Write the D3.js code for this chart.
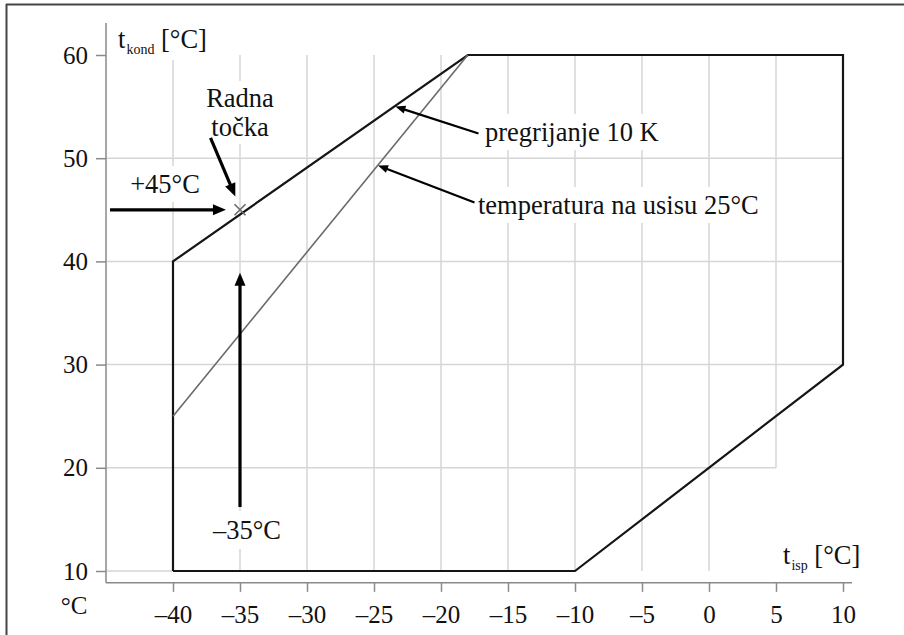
<!DOCTYPE html>
<html><head><meta charset="utf-8">
<script src="https://cdn.jsdelivr.net/npm/d3@7"></script>
<style>
body{margin:0;background:#fff}
svg{display:block}
text{font-family:"Liberation Serif","Times New Roman",serif;fill:#111}
</style>
</head><body><svg id="c" width="904" height="635"></svg>
<script>
// ---- data ----
const xTicks = [-40,-35,-30,-25,-20,-15,-10,-5,0,5,10];
const xTickLabels = ["–40","–35","–30","–25","–20","–15","–10","–5","0","5","10"];
const yTicks = [10,20,30,40,50,60];
const yTickLabels = ["10","20","30","40","50","60"];
// operating envelope (t_isp, t_kond)
const envelopeX = [-40,-40,-18,10,10,-10,-40];
const envelopeY = [10,40,60,60,30,10,10];
// suction temperature 25°C limit line
const suctionX = [-40,-18];
const suctionY = [25,60];
// operating point
const pointX = [-35];
const pointY = [45];
const pointLabel = ["Radna", "točka"];
const labelCondT = "+45°C";
const labelEvapT = "–35°C";
const labelSuperheat = "pregrijanje 10 K";
const labelSuction = "temperatura na usisu 25°C";

// ---- layout ----
const svg = d3.select("#c");
const x = d3.scaleLinear().domain([-45,10]).range([106,843]);
const y = d3.scaleLinear().domain([10,60]).range([571,55]);

const gGrid = svg.append("g");
const gBg = svg.append("g");
const gMarks = svg.append("g");
const gText = svg.append("g");

// frame
svg.append("line").attr("x1",6).attr("x2",904).attr("y1",4.5).attr("y2",4.5).attr("stroke","#444").attr("stroke-width",2);
svg.append("line").attr("x1",6.5).attr("x2",6.5).attr("y1",4).attr("y2",635).attr("stroke","#444").attr("stroke-width",2);

// grid
const gridC = "#d6d6d6";
xTicks.forEach(v=>{
  let yEnd = 10;
  if (v===5) yEnd = 20;
  if (v===10) yEnd = 30;
  gGrid.append("line").attr("x1",x(v)).attr("x2",x(v)).attr("y1",y(60)).attr("y2",y(yEnd))
    .attr("stroke",gridC).attr("stroke-width",1.5);
});
yTicks.filter(v=>v<60).forEach(v=>{
  let xEnd = 10;
  if (v===20) xEnd = 5;
  if (v===10) xEnd = -10;
  gGrid.append("line").attr("x1",x(-45)).attr("x2",x(xEnd)).attr("y1",y(v)).attr("y2",y(v))
    .attr("stroke",gridC).attr("stroke-width",1.5);
});

// axes
const axisC = "#8a8a8a";
const TS = 25;
const xAxis = d3.axisBottom(x).tickValues(xTicks).tickFormat((d,i)=>xTickLabels[i]).tickSize(9).tickSizeOuter(0).tickPadding(13);
const gx = svg.append("g").attr("transform",`translate(0,${y(8.85)})`).call(xAxis);
gx.select(".domain").remove();
gx.append("line").attr("x1",x(-45)).attr("x2",x(10.67)).attr("y1",0).attr("y2",0).attr("stroke",axisC).attr("stroke-width",1.5);
gx.selectAll(".tick line").attr("stroke",axisC).attr("stroke-width",1.5);
gx.selectAll(".tick text").attr("font-size",TS).attr("font-family","Liberation Serif").attr("fill","#111");

const yAxis = d3.axisLeft(y).tickValues(yTicks).tickFormat((d,i)=>yTickLabels[i]).tickSize(10).tickSizeOuter(0).tickPadding(8);
const gy = svg.append("g").attr("transform",`translate(${x(-45)},0)`).call(yAxis);
gy.select(".domain").remove();
gy.append("line").attr("x1",0).attr("x2",0).attr("y1",y(8.85)).attr("y2",y(63.1)).attr("stroke",axisC).attr("stroke-width",1.5);
gy.selectAll(".tick line").attr("stroke",axisC).attr("stroke-width",1.5);
gy.selectAll(".tick text").attr("font-size",TS).attr("font-family","Liberation Serif").attr("fill","#111");

// envelope
const line = d3.line().x(d=>x(d[0])).y(d=>y(d[1]));
gMarks.append("path").datum(envelopeX.map((v,i)=>[v,envelopeY[i]]))
  .attr("d",line).attr("fill","none").attr("stroke","#151515").attr("stroke-width",2.2).attr("stroke-linejoin","miter");
gMarks.append("path").datum(suctionX.map((v,i)=>[v,suctionY[i]]))
  .attr("d",line).attr("fill","none").attr("stroke","#6a6a6a").attr("stroke-width",1.6);

// operating point marker
pointX.forEach((v,i)=>{
  const px = x(v), py = y(pointY[i]), s=5.5;
  gMarks.append("path").attr("d",`M${px-s},${py-s}L${px+s},${py+s}M${px-s},${py+s}L${px+s},${py-s}`)
    .attr("stroke","#6a6a6a").attr("stroke-width",1.6).attr("fill","none");
});

// arrows (data coords)
function arrow(x0,y0,x1,y1,w,hl,hw){
  const ax=x(x0), ay=y(y0), bx=x(x1), by=y(y1);
  const dx=bx-ax, dy=by-ay, L=Math.hypot(dx,dy), ux=dx/L, uy=dy/L;
  const cx=bx-ux*hl, cy=by-uy*hl;
  gMarks.append("line").attr("x1",ax).attr("y1",ay).attr("x2",cx+ux*1).attr("y2",cy+uy*1)
    .attr("stroke","#000").attr("stroke-width",w);
  gMarks.append("path").attr("d",`M${bx},${by}L${cx-uy*hw/2},${cy+ux*hw/2}L${cx+uy*hw/2},${cy-ux*hw/2}Z`).attr("fill","#000");
}
arrow(-44.7, 45, pointX[0]-1.05, pointY[0], 3.2, 13, 11);
arrow(-37.2, 51.96, pointX[0]-0.35, 46.3, 3.2, 13, 11);
arrow(pointX[0], 16.2, pointX[0], 38.9, 3.2, 13, 11);
arrow(-17.2, 52.4, -23.4, 55.0, 2.2, 10, 8);
arrow(-17.5, 45.7, -24.7, 49.3, 2.2, 10, 8);

// labels
function label(str, px, py, anchor, size){
  return gText.append("text").attr("text-anchor",anchor).attr("font-size",size)
    .attr("x",px).attr("y",py).text(str);
}
function bg(t, pad){
  const r = t.node().getBoundingClientRect();
  gBg.append("rect").attr("x",r.left-pad).attr("y",r.top-pad).attr("width",r.width+2*pad).attr("height",r.height+2*pad).attr("fill","#fff");
}
const F = 26.5;
bg(label(pointLabel[0], x(pointX[0]), 107, "middle", F), 2);
bg(label(pointLabel[1], x(pointX[0]), 136, "middle", F), 2);
bg(label(labelCondT, 165, 193, "middle", F), 3);
bg(label(labelEvapT, 247, 539, "middle", F), 4);
bg(label(labelSuperheat, 485, 141, "start", F), 3);
bg(label(labelSuction, 478, 214, "start", F), 3);
label("°C", 74, 614, "middle", TS);

// axis titles with subscripts
function subLabel(main, sub, rest, px, py){
  const t = gText.append("text").attr("font-size",F).attr("x",px).attr("y",py);
  t.append("tspan").text(main);
  t.append("tspan").attr("font-size",14).attr("dy",6).attr("dx",1).text(sub);
  t.append("tspan").attr("dy",-6).text(" "+rest);
  return t;
}
bg(subLabel("t","kond","[°C]",118,48), 3);
bg(subLabel("t","isp","[°C]",783,564), 3);
</script>
</body></html>
